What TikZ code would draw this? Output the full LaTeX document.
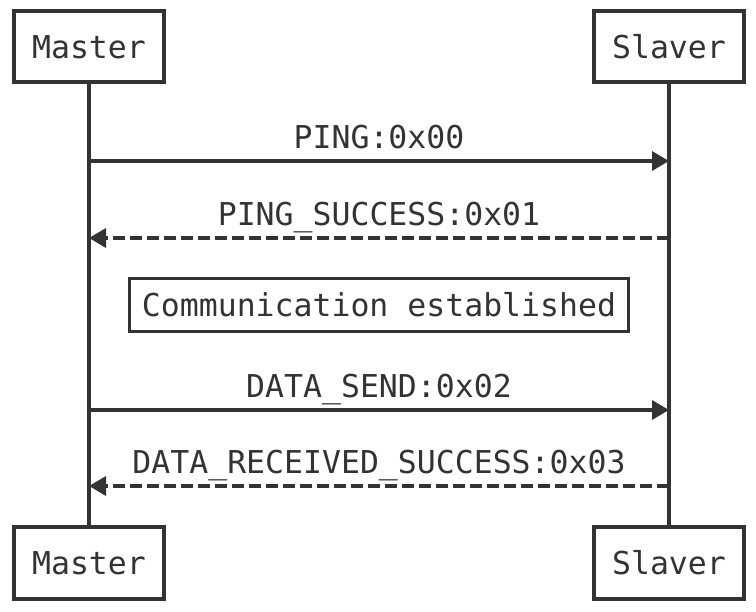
\documentclass[tikz,border=0pt]{standalone}
\usepackage{fontspec}
\setmonofont{DejaVu Sans Mono}
\usetikzlibrary{arrows.meta,positioning}
\definecolor{seqgray}{HTML}{333333}

\begin{document}
\begin{tikzpicture}[x=1pt, y=-1pt, line width=3.4pt, color=seqgray,
  font=\ttfamily\fontsize{31.5}{36}\selectfont,
  actor/.style={draw, fill=white, line width=4pt, minimum width=150pt, minimum height=71pt, inner sep=0pt},
  msg/.style={-{Triangle[length=17pt,width=19pt]}},
  reply/.style={msg, dash pattern=on 12pt off 5pt},
  lbl/.style={above=11pt, inner sep=0pt, text depth=0pt}]
  \useasboundingbox (0,0) rectangle (756,612);
  % participants
  \node[actor] (master) at (89,47) {Master};
  \node[actor] (slaver) at (669,47) {Slaver};
  \node[actor] (masterB) at (89,563) {Master};
  \node[actor] (slaverB) at (669,563) {Slaver};
  % lifelines
  \draw (master) -- (masterB);
  \draw (slaver) -- (slaverB);
  % message points on the lifelines
  \coordinate (m1) at (89,161);  \coordinate (s1) at (669,161);
  \coordinate (m2) at (89,238);  \coordinate (s2) at (669,238);
  \coordinate (m3) at (89,410);  \coordinate (s3) at (669,410);
  \coordinate (m4) at (89,486);  \coordinate (s4) at (669,486);
  % messages
  \draw[msg] (m1) -- node[lbl] (ping) {PING:0x00} (s1);
  \draw[reply] (s2) -- node[lbl] (pingok) {PING\_SUCCESS:0x01} (m2);
  \node[draw, minimum width=499pt, minimum height=53pt, inner sep=0pt] (note) at (379,305) {Communication established};
  \draw[msg] (m3) -- node[lbl] (send) {DATA\_SEND:0x02} (s3);
  \draw[reply] (s4) -- node[lbl] (recv) {DATA\_RECEIVED\_SUCCESS:0x03} (m4);
\end{tikzpicture}
\end{document}
